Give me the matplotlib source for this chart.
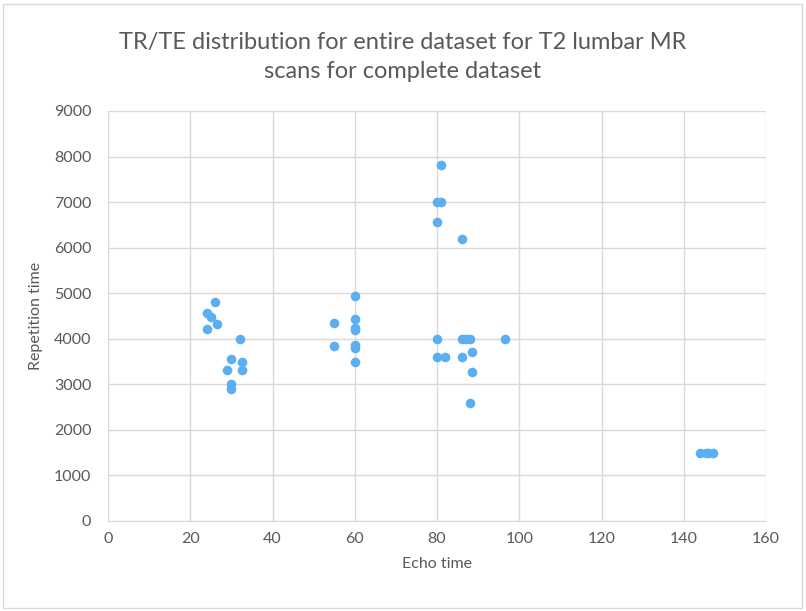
import matplotlib
matplotlib.use('Agg')
import matplotlib.pyplot as plt

plt.rcParams['font.family'] = ['Lato', 'DejaVu Sans']

# Echo time (TE) / Repetition time (TR) values
echo_time = [26, 24, 25, 26.5, 24, 32, 30, 32.5, 29, 32.5, 30, 30,
             60, 55, 60, 60, 60, 55, 60, 60, 60,
             81, 80, 81, 80, 86, 80, 86, 87, 88, 96.5, 80, 82, 86, 88.5, 88.5, 88,
             144, 145.5, 146, 147]
repetition_time = [4810, 4570, 4480, 4320, 4210, 4000, 3560, 3500, 3310, 3310, 3010, 2905,
                   4940, 4350, 4430, 4240, 4190, 3840, 3870, 3800, 3490,
                   7820, 7000, 7000, 6560, 6180, 3990, 4000, 4000, 4000, 4000, 3600, 3600, 3600, 3700, 3260, 2590,
                   1500, 1500, 1500, 1500]

grey = '#595959'

fig = plt.figure(figsize=(8.06, 6.11), dpi=100)
ax = fig.add_axes([108 / 806, 1 - 521 / 611, 658 / 806, 410 / 611])

ax.scatter(echo_time, repetition_time, s=48, color='#5BAEF0', zorder=3, linewidths=0)

ax.set_xlim(0, 160)
ax.set_ylim(0, 9000)
ax.set_xticks(range(0, 161, 20))
ax.set_yticks(range(0, 9001, 1000))
ax.grid(True, color='#D9D9D9', linewidth=1)
ax.set_axisbelow(True)
for side in ['top', 'right', 'left']:
    ax.spines[side].set_visible(False)
ax.spines['bottom'].set_color('#D9D9D9')
ax.tick_params(length=0, labelsize=11.5, colors=grey)
ax.tick_params(axis='y', pad=12)
ax.tick_params(axis='x', pad=8)

ax.set_xlabel('Echo time', fontsize=11.5, color=grey, labelpad=8)
ax.set_ylabel('Repetition time', fontsize=11.5, color=grey, labelpad=8)

fig.text(0.5, 1 - 57 / 611, 'TR/TE distribution for entire dataset for T2 lumbar MR\nscans for complete dataset',
         ha='center', va='center', fontsize=17, color=grey, linespacing=1.45)

# light border around the chart area
fig.patches.append(plt.Rectangle((3 / 806, 3 / 611), 799 / 806, 604 / 611, transform=fig.transFigure,
                                 fill=False, edgecolor='#D9D9D9', linewidth=1))

fig.savefig('out.png', dpi=100)
